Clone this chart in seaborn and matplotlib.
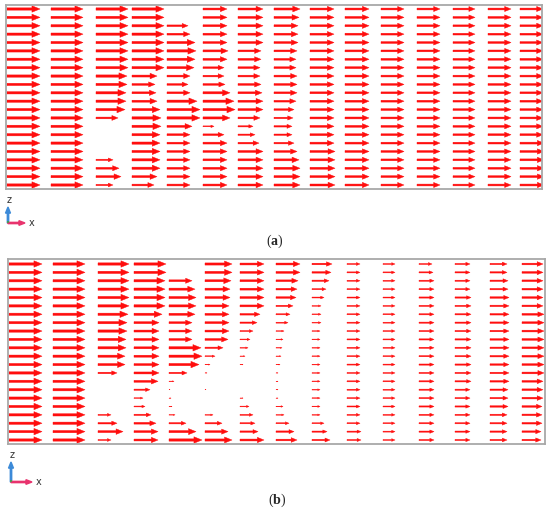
import numpy as np
import matplotlib
matplotlib.use("Agg")
import matplotlib.pyplot as plt
import seaborn as sns

sns.set_style("white")
plt.rcParams["mathtext.fontset"] = "custom"
plt.rcParams["mathtext.bf"] = "Liberation Serif:bold"
plt.rcParams["mathtext.rm"] = "Liberation Serif"

# ---- data -------------------------------------------------------------
# x position of each column of nodes (along the channel)
x_nodes = [1, 45, 90, 126, 161, 197, 232, 268, 304, 339, 375, 411, 447, 482, 514]
n_rows = 22  # nodes along the height, listed top -> bottom

# horizontal velocity magnitude, one list per column (top -> bottom)
u_case_a = [
    [33] * 22,
    [32] * 22,
    [32, 32, 32, 32, 32, 32, 32, 32, 31, 31, 30, 30, 29, 22, 0, 0, 0, 0, 17, 23, 25, 17],
    [32, 32, 32, 32, 32, 32, 32, 32, 25, 23, 24, 25, 28, 29, 29, 28, 28, 28, 28, 28, 25, 22],
    [0, 0, 21, 23, 28, 29, 28, 27, 23, 21, 23, 30, 33, 33, 25, 23, 23, 23, 23, 23, 23, 23],
    [24, 24, 24, 24, 24, 25, 24, 21, 21, 22, 27, 31, 32, 27, 11, 21, 24, 24, 24, 24, 24, 24],
    [25, 25, 25, 25, 25, 23, 23, 22, 22, 23, 24, 25, 25, 22, 15, 17, 21, 25, 25, 25, 25, 25],
    [26, 25, 24, 24, 24, 23, 22, 22, 23, 23, 23, 22, 20, 19, 18, 18, 20, 23, 25, 26, 26, 26],
    [24, 24, 24, 24, 24, 24, 24, 24, 24, 24, 24, 24, 24, 24, 24, 24, 24, 25, 25, 25, 25, 25],
    [24] * 22,
    [23] * 22,
    [23] * 22,
    [22] * 22,
    [23] * 22,
    [23, 23, 23, 23, 23, 23, 23, 23, 23, 23, 23, 23, 23, 23, 23, 23, 24, 24, 24, 24, 24, 24],
]

u_case_b = [
    [33] * 22,
    [32] * 22,
    [31, 31, 31, 31, 31, 31, 30, 29, 29, 28, 28, 27, 27, 19, 0, 0, 0, 0, 13, 19, 25, 13],
    [32, 32, 31, 31, 31, 31, 28, 25, 25, 25, 25, 25, 25, 25, 24, 16, 9, 11, 17, 22, 24, 24],
    [0, 0, 23, 26, 27, 27, 26, 23, 23, 23, 32, 33, 30, 18, 5, 1, 2, 3, 6, 17, 27, 33],
    [27, 27, 26, 25, 25, 24, 24, 24, 24, 23, 18, 10, 5, 2, 0, 1, 0, 0, 8, 17, 23, 27],
    [24, 24, 24, 24, 24, 24, 20, 17, 13, 10, 8, 5, 3, 0, 0, 0, 3, 9, 13, 15, 18, 24],
    [24, 24, 22, 21, 20, 17, 14, 12, 8, 7, 6, 5, 4, 2, 2, 2, 2, 7, 8, 13, 18, 21],
    [20, 19, 17, 14, 12, 9, 9, 9, 8, 8, 8, 8, 8, 8, 8, 8, 8, 8, 8, 12, 15, 18],
    [13, 13, 13, 13, 13, 13, 13, 13, 13, 13, 13, 13, 13, 13, 13, 13, 13, 13, 13, 13, 14, 14],
    [12] * 22,
    [13, 14, 15, 15, 15, 15, 15, 15, 15, 15, 15, 15, 15, 15, 15, 15, 15, 15, 15, 15, 15, 15],
    [15, 15, 15, 15, 16, 16, 16, 16, 16, 16, 16, 16, 16, 16, 16, 15, 15, 15, 15, 15, 15, 15],
    [17, 17, 18, 18, 19, 19, 19, 19, 19, 19, 19, 19, 19, 19, 19, 18, 18, 18, 17, 17, 17, 17],
    [21, 21, 21, 21, 21, 21, 22, 22, 22, 22, 22, 22, 22, 22, 21, 21, 21, 20, 20, 20, 19, 19],
]

panel_labels = ["a", "b"]

# ---- figure -----------------------------------------------------------
W, H = 550, 512
fig = plt.figure(figsize=(W / 100, H / 100), dpi=100)

z_nodes = np.linspace(180, 4, n_rows)  # top -> bottom


def panel(box, u_cols, label, label_xy, triad):
    left, top, w, h = box
    ax = fig.add_axes([left / W, 1 - (top + h) / H, w / W, h / H])
    X, Z = np.meshgrid(x_nodes, z_nodes, indexing="ij")
    U = np.array(u_cols, dtype=float)
    V = np.zeros_like(U)
    ax.quiver(X.ravel(), Z.ravel(), U.ravel(), V.ravel(),
              angles="xy", scale_units="xy", scale=1, units="dots",
              width=2.3, headwidth=2.8, headlength=3.5, headaxislength=3.5,
              minshaft=3.6, minlength=0, color="#ff0d0d", pivot="tail",
              linewidth=0.3, edgecolor="#ff0d0d")
    ax.set_xlim(0, w)
    ax.set_ylim(0, h)
    ax.set_xticks([])
    ax.set_yticks([])
    for s in ax.spines.values():
        s.set_visible(True)
        s.set_color("#a8a8a8")
        s.set_linewidth(1.3)

    # coordinate triad
    ox, oy, zl, xl = triad
    fx = lambda px: px / W
    fy = lambda py: 1 - py / H
    fig.patches.append(matplotlib.patches.FancyArrow(
        fx(ox), fy(oy), 0, (oy - zl) / H, width=0.0025, head_width=0.009,
        head_length=0.012, length_includes_head=True, color="#3c8ad8",
        transform=fig.transFigure, figure=fig))
    fig.patches.append(matplotlib.patches.FancyArrow(
        fx(ox), fy(oy), (xl - ox) / W, 0, width=0.0025, head_width=0.009,
        head_length=0.011, length_includes_head=True, color="#e8336d",
        transform=fig.transFigure, figure=fig))
    fig.text(fx(ox), fy(oy), "•", color="#3aa845", fontsize=5,
             ha="center", va="center")
    fig.text(fx(ox + 1), fy(zl - 7), "z", fontsize=7, ha="center",
             va="center", color="#333333")
    fig.text(fx(xl + 7), fy(oy), "x", fontsize=7, ha="center",
             va="center", color="#333333")
    fig.text(fx(label_xy[0]), fy(label_xy[1]),
             r"$\mathrm{(}\mathbf{" + label + r"}\mathrm{)}$",
             fontsize=10, ha="center", va="center")
    return ax


panel((6, 5, 536, 184), u_case_a, panel_labels[0], (275, 241), (8, 223, 207, 25))
panel((8, 259, 537, 185), u_case_b, panel_labels[1], (277, 500), (11, 482, 462, 32))

fig.savefig("out.png", dpi=100)
